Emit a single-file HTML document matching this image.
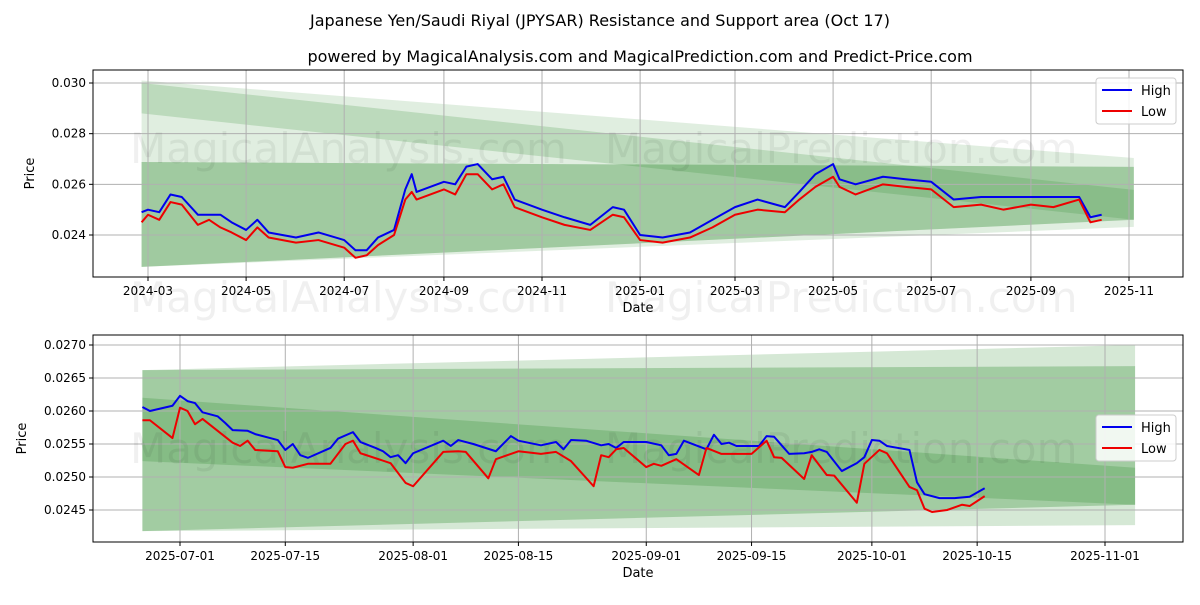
<!DOCTYPE html>
<html><head><meta charset="utf-8"><style>
body{margin:0;background:#fff;font-family:"Liberation Sans","DejaVu Sans",sans-serif}
svg text{font-family:"DejaVu Sans","Liberation Sans",sans-serif}
</style></head><body>
<svg id="c" width="1200" height="600" xmlns="http://www.w3.org/2000/svg">
<rect width="1200" height="600" fill="#fff"/>
<text x="600" y="26" text-anchor="middle" font-size="16">Japanese Yen/Saudi Riyal (JPYSAR) Resistance and Support area (Oct 17)</text>
<text x="640" y="62" text-anchor="middle" font-size="16">powered by MagicalAnalysis.com and MagicalPrediction.com and Predict-Price.com</text>
</svg>
<script>
// ---- top chart data ----
const topDates=["2024-02-26","2024-03-01","2024-03-08","2024-03-15","2024-03-22","2024-04-01","2024-04-08","2024-04-15","2024-04-22","2024-05-01","2024-05-08","2024-05-15","2024-06-01","2024-06-15","2024-07-01","2024-07-08","2024-07-15","2024-07-22","2024-08-01","2024-08-08","2024-08-12","2024-08-15","2024-09-01","2024-09-08","2024-09-15","2024-09-22","2024-10-01","2024-10-08","2024-10-15","2024-11-01","2024-11-15","2024-12-01","2024-12-15","2024-12-22","2025-01-01","2025-01-15","2025-02-01","2025-02-15","2025-03-01","2025-03-15","2025-04-01","2025-04-10","2025-04-20","2025-05-01","2025-05-05","2025-05-15","2025-06-01","2025-06-15","2025-07-01","2025-07-15","2025-08-01","2025-08-15","2025-09-01","2025-09-15","2025-10-01","2025-10-08","2025-10-15"];
const topHigh=[0.0249,0.0250,0.0249,0.0256,0.0255,0.0248,0.0248,0.0248,0.0245,0.0242,0.0246,0.0241,0.0239,0.0241,0.0238,0.0234,0.0234,0.0239,0.0242,0.0258,0.0264,0.0257,0.0261,0.0260,0.0267,0.0268,0.0262,0.0263,0.0254,0.0250,0.0247,0.0244,0.0251,0.0250,0.0240,0.0239,0.0241,0.0246,0.0251,0.0254,0.0251,0.0257,0.0264,0.0268,0.0262,0.0260,0.0263,0.0262,0.0261,0.0254,0.0255,0.0255,0.0255,0.0255,0.0255,0.0247,0.0248];
const topLow=[0.0245,0.0248,0.0246,0.0253,0.0252,0.0244,0.0246,0.0243,0.0241,0.0238,0.0243,0.0239,0.0237,0.0238,0.0235,0.0231,0.0232,0.0236,0.0240,0.0254,0.0257,0.0254,0.0258,0.0256,0.0264,0.0264,0.0258,0.0260,0.0251,0.0247,0.0244,0.0242,0.0248,0.0247,0.0238,0.0237,0.0239,0.0243,0.0248,0.0250,0.0249,0.0254,0.0259,0.0263,0.0259,0.0256,0.0260,0.0259,0.0258,0.0251,0.0252,0.0250,0.0252,0.0251,0.0254,0.0245,0.0246];
const topTicks=["2024-03","2024-05","2024-07","2024-09","2024-11","2025-01","2025-03","2025-05","2025-07","2025-09","2025-11"];
const topYTicks=[0.024,0.026,0.028,0.030];
const topBands=[[0.0301,0.02274,0.02704,0.02432,0.15],[0.02688,0.02274,0.02669,0.0246,0.25],[0.0300,0.0288,0.02578,0.0246,0.2],[0.02688,0.02274,0.02669,0.0246,0.15]];
// ---- bottom chart data (days from 2025-07-01) ----
const botHighDays=[-5,-4,-1,0,1,2,3,5,6,7,9,10,13,14,15,16,17,20,21,23,24,26,27,28,29,30,31,35,36,37,39,42,44,45,48,50,51,52,54,56,57,58,59,62,64,65,66,67,70,71,72,73,74,77,78,79,80,81,83,84,85,86,88,90,91,92,93,94,97,98,99,101,103,105,107];
const botHigh=[.02606,.02600,.02608,.02623,.02615,.02612,.02598,.02592,.02582,.02571,.02570,.02565,.02556,.02541,.02550,.02533,.02529,.02544,.02558,.02568,.02553,.02544,.02539,.02530,.02533,.02521,.02536,.02555,.02547,.02556,.02550,.02539,.02562,.02555,.02548,.02553,.02542,.02556,.02555,.02548,.02550,.02544,.02553,.02553,.02548,.02533,.02535,.02555,.02542,.02564,.02550,.02552,.02547,.02547,.02562,.02561,.02548,.02535,.02536,.02538,.02542,.02538,.02509,.02521,.02530,.02556,.02555,.02547,.02541,.02492,.02474,.02468,.02468,.02470,.02483];
const botLowDays=[-5,-4,-1,0,1,2,3,7,8,9,10,13,14,15,17,20,22,23,24,28,30,31,35,37,38,41,42,45,48,50,52,55,56,57,58,59,62,63,64,66,69,70,72,76,78,79,80,83,84,86,87,90,91,93,94,97,98,99,100,102,104,105,107];
const botLow=[.02586,.02586,.02559,.02605,.02600,.02580,.02588,.02552,.02547,.02555,.02541,.02539,.02515,.02514,.02520,.02520,.02550,.02555,.02536,.02521,.02491,.02486,.02538,.02539,.02538,.02498,.02527,.02539,.02535,.02538,.02524,.02486,.02533,.02530,.02542,.02544,.02515,.02520,.02517,.02527,.02503,.02544,.02535,.02535,.02555,.02530,.02529,.02497,.02533,.02503,.02502,.02461,.02520,.02541,.02536,.02485,.02480,.02452,.02447,.02450,.02458,.02456,.02471];
const botTicks=["2025-07-01","2025-07-15","2025-08-01","2025-08-15","2025-09-01","2025-09-15","2025-10-01","2025-10-15","2025-11-01"];
const botYTicks=[0.0245,0.0250,0.0255,0.0260,0.0265,0.0270];
const botBands=[[0.02662,0.02418,0.0270,0.02427,0.2],[0.02662,0.02418,0.02668,0.02458,0.3],[0.02620,0.02524,0.02514,0.02458,0.25]];

const svg=document.getElementById('c');
const NS="http://www.w3.org/2000/svg";
function mk(t,a,p){const e=document.createElementNS(NS,t);for(const k in a)e.setAttribute(k,a[k]);(p||svg).appendChild(e);return e;}
const DAY=86400000;
function dnum(s){const p=s.split('-').map(Number);return Date.UTC(p[0],p[1]-1,p[2]||1)/DAY;}

function panel(o){
  const g=mk('g',{});
  
  
  const X=d=>o.x0+(d-o.d0)/(o.d1-o.d0)*(o.x1-o.x0);
  const Y=v=>o.y0+(v-o.v0)/(o.v1-o.v0)*(o.y1-o.y0);
  o.bands.forEach(b=>{
    const p=mk('polygon',{points:`${X(o.bs)},${Y(b[0])} ${X(o.be)},${Y(b[2])} ${X(o.be)},${Y(b[3])} ${X(o.bs)},${Y(b[1])}`,fill:'#2e8b2e','fill-opacity':b[4]},g);
    
    
  });
  o.xt.forEach(t=>{const x=X(dnum(t));
    const l=mk('line',{x1:x,x2:x,y1:o.top,y2:o.bot,stroke:'#b0b0b0','stroke-width':1},g);
    
    mk('line',{x1:x,x2:x,y1:o.bot,y2:o.bot+4,stroke:'#000'},g);
    const tx=mk('text',{x:x,y:o.bot+18,'text-anchor':'middle','font-size':12},g);tx.textContent=t;
    
  });
  o.yt.forEach(v=>{const y=Y(v);
    const l=mk('line',{x1:93,x2:1183,y1:y,y2:y,stroke:'#b0b0b0','stroke-width':1},g);
    
    mk('line',{x1:89,x2:93,y1:y,y2:y,stroke:'#000'},g);
    const tx=mk('text',{x:86,y:y+4,'text-anchor':'end','font-size':12},g);tx.textContent=v.toFixed(o.dec);
    
  });
  o.wm.forEach(w=>{const t=mk('text',{x:w[0],y:w[1],'font-size':42,fill:'#000','fill-opacity':0.06},g);t.textContent=w[2];
    });
  [[o.hd,o.h,'#0000ee','high-line'],[o.ld,o.l,'#ee0000','low-line']].forEach(s=>{
    const pts=s[0].map((d,i)=>X(d)+','+Y(s[1][i])).join(' ');
    const pl=mk('polyline',{points:pts,fill:'none',stroke:s[2],'stroke-width':2,'stroke-linejoin':'round'},g);
    
  });
  const fr=mk('rect',{x:93,y:o.top,width:1090,height:o.bot-o.top,fill:'none',stroke:'#000','stroke-width':1},g);
  
  const xl=mk('text',{x:638,y:o.bot+35,'text-anchor':'middle','font-size':13},g);xl.textContent='Date';
  
  const yc=(o.top+o.bot)/2;
  const yl=mk('text',{x:o.ylx,y:yc,'text-anchor':'middle','font-size':13,transform:`rotate(-90 ${o.ylx} ${yc})`},g);yl.textContent='Price';
  
  const lg=mk('g',{},g);
  mk('rect',{x:1096,y:o.leg,width:80,height:46,rx:3,fill:'#fff','fill-opacity':0.85,stroke:'#ccc'},lg);
  [['High','#0000ee'],['Low','#ee0000']].forEach((e,i)=>{
    const yy=o.leg+12+i*21;
    const eg=mk('g',{},lg);
    mk('line',{x1:1102,x2:1132,y1:yy,y2:yy,stroke:e[1],'stroke-width':2},eg);
    const t=mk('text',{x:1141,y:yy+5,'font-size':13},eg);t.textContent=e[0];
  });
}
const d24=dnum("2024-03-01"), d25=dnum("2025-11-01");
panel({name:'top-chart',x0:148,x1:1129,d0:d24,d1:d25,y0:235,y1:83,v0:0.024,v1:0.030,top:70,bot:277,dec:3,
  bs:dnum("2024-02-26"),be:dnum("2025-11-04"),bands:topBands,xt:topTicks,yt:topYTicks,
  hd:topDates.map(dnum),h:topHigh,ld:topDates.map(dnum),l:topLow,ylx:34,leg:78,
  wm:[[130,163,'MagicalAnalysis.com'],[605,163,'MagicalPrediction.com'],[130,312,'MagicalAnalysis.com'],[605,312,'MagicalPrediction.com']]});
const j1=dnum("2025-07-01");
panel({name:'bottom-chart',x0:180,x1:1105,d0:j1,d1:dnum("2025-11-01"),y0:510,y1:345,v0:0.0245,v1:0.0270,top:335,bot:542,dec:4,
  bs:j1-5,be:j1+127,bands:botBands,xt:botTicks,yt:botYTicks,
  hd:botHighDays.map(d=>j1+d),h:botHigh,ld:botLowDays.map(d=>j1+d),l:botLow,ylx:26,leg:415,
  wm:[[130,463,'MagicalAnalysis.com'],[605,463,'MagicalPrediction.com']]});
</script>
</body></html>
